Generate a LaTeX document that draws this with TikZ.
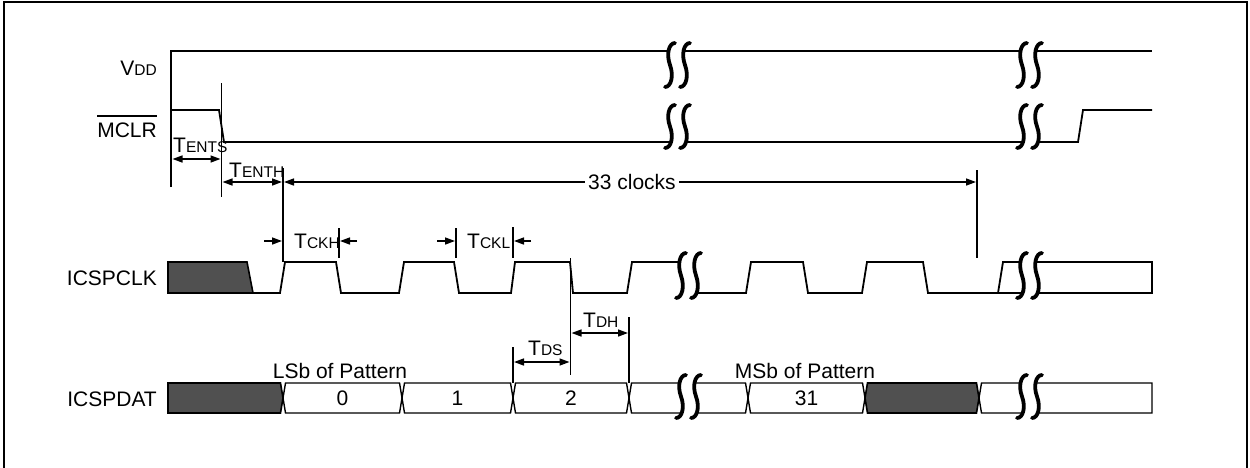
\documentclass[tikz,border=0pt]{standalone}
\usepackage{fontspec}
\setmainfont{Liberation Sans}
\usetikzlibrary{arrows.meta}
\definecolor{darkfill}{RGB}{80,80,80}
\newcommand\bigf{\fontsize{21}{25}\selectfont}
\newcommand\smf{\fontsize{15.5}{18}\selectfont}
\newcommand\sct[2]{{\bigf #1}{\smf #2}}
\tikzset{
  sig/.style={line width=1.8pt, line join=miter},
  tline/.style={line width=1.6pt},
  dim/.style={line width=1.5pt, {Triangle[length=10pt,width=7pt]}-{Triangle[length=10pt,width=7pt]}},
  dimr/.style={line width=1.5pt, -{Triangle[length=10pt,width=7pt]}},
  brk/.style={line width=3.8pt, line cap=round},
  lbl/.style={inner sep=0pt, font=\bigf},
  dbox/.style={line width=1.4pt, fill=white},
  dkbox/.style={line width=1.6pt, fill=darkfill},
}
% break pair: #1 x1, #2 x2, #3 top y, #4 bottom y
\newcommand\brkpair[4]{%
  \pgfmathsetmacro\brkh{#4-#3}%
  \fill[white] ({#1+5},#3) .. controls ({#1-1},{#3}) and ({#1-4},{#3+0.25*\brkh}) .. ({#1},{#3+0.5*\brkh}) .. controls ({#1+4},{#3+0.75*\brkh}) and ({#1+1},{#4}) .. ({#1-5},#4)
     -- ({#2-5},#4) .. controls ({#2+1},{#4}) and ({#2+4},{#3+0.75*\brkh}) .. ({#2},{#3+0.5*\brkh}) .. controls ({#2-4},{#3+0.25*\brkh}) and ({#2-1},{#3}) .. ({#2+5},#3) -- cycle;
  \draw[brk] ({#1+5},#3) .. controls ({#1-1},{#3}) and ({#1-4},{#3+0.25*\brkh}) .. ({#1},{#3+0.5*\brkh}) .. controls ({#1+4},{#3+0.75*\brkh}) and ({#1+1},{#4}) .. ({#1-5},#4);
  \draw[brk] ({#2+5},#3) .. controls ({#2-1},{#3}) and ({#2-4},{#3+0.25*\brkh}) .. ({#2},{#3+0.5*\brkh}) .. controls ({#2+4},{#3+0.75*\brkh}) and ({#2+1},{#4}) .. ({#2-5},#4);
}
% data box between transitions #1 and #2, style #3
\newcommand\databox[3]{%
  \draw[#3] (#1,398) -- ({#1+2.5},383) -- ({#2-2.5},383) -- (#2,398) -- ({#2-2.5},413) -- ({#1+2.5},413) -- cycle;
}
\begin{document}
\begin{tikzpicture}[x=1pt,y=-1pt]
\useasboundingbox (0,0) rectangle (1250,467);
\draw[line width=2pt] (4,475) -- (4,1.5) -- (1247,1.5) -- (1247,475);

% ---------- signal labels ----------
\node[lbl, anchor=base east] (vdd) at (157,75) {\sct{V}{DD}};
\node[lbl, anchor=base east] (mclr) at (157,137) {MCLR};
\draw[line width=1.5pt] ([yshift=6pt]mclr.north west) -- ([yshift=6pt]mclr.north east);
\node[lbl, anchor=base east] (clk) at (157,285) {ICSPCLK};
\node[lbl, anchor=base east] (dat) at (157,406) {ICSPDAT};

% ---------- VDD and MCLR ----------
\draw[sig] (171,187) -- (171,51) -- (1152,51);
\draw[sig] (171,110) -- (219,110) -- (224,142) -- (1078,142) -- (1083,110) -- (1152,110);
\brkpair{670}{685}{43}{87}
\brkpair{1022}{1037}{43}{87}
\brkpair{670}{685}{105}{148}
\brkpair{1022}{1037}{105}{148}

% ---------- ICSPCLK ----------
\draw[dkbox] (168,262) -- (247,262) -- (253,293) -- (168,293) -- cycle;
\draw[sig] (253,293) -- (280,293) -- (285,262) -- (336,262) -- (341,293) -- (399,293) -- (404,262) -- (454,262) -- (459,293)
  -- (511,293) -- (515,262) -- (570,262) -- (573,293) -- (627,293) -- (632,262) -- (692,262);
\draw[sig] (686,293) -- (746,293) -- (751,262) -- (803,262) -- (808,293) -- (862,293) -- (867,262) -- (923,262) -- (928,293)
  -- (1030,293);
\draw[sig] (998,293) -- (1003,262) -- (1030,262);
\draw[sig] (1030,262) -- (1152,262) -- (1152,293) -- (1030,293);
\brkpair{681}{696}{253}{298}
\brkpair{1022}{1037}{253}{298}

% ---------- ICSPDAT ----------
\draw[dkbox] (168,383) -- (280.5,383) -- (283,398) -- (280.5,413) -- (168,413) -- cycle;
\databox{283}{402}{dbox}
\databox{402}{513}{dbox}
\databox{513}{629}{dbox}
\databox{629}{748}{dbox}
\databox{748}{865}{dbox}
\databox{865}{979}{dkbox}
\draw[dbox] (979,398) -- (981.5,383) -- (1152,383) -- (1152,413) -- (981.5,413) -- cycle;
\brkpair{681}{696}{375}{418}
\brkpair{1022}{1037}{375}{418}
\node[lbl, anchor=base] (d0) at (342.5,405) {0};
\node[lbl, anchor=base] (d1) at (457.5,405) {1};
\node[lbl, anchor=base] (d2) at (571,405) {2};
\node[lbl, anchor=base] (d31) at (806.5,405) {31};
\node[lbl, anchor=base] (lsb) at (340,378) {LSb of Pattern};
\node[lbl, anchor=base] (msb) at (805,378) {MSb of Pattern};

% ---------- timing reference lines ----------
\coordinate (vA) at (221.5,83);  \coordinate (vB) at (221.5,197);
\coordinate (hA) at (283,168);   \coordinate (hB) at (283,262);
\coordinate (kA) at (977,170);   \coordinate (kB) at (977,258);
\coordinate (ckhT) at (339,228); \coordinate (ckhU) at (339,258);
\coordinate (cklT) at (456,228); \coordinate (cklU) at (456,258);
\coordinate (cklV) at (512.7,227); \coordinate (cklW) at (512.7,258);
\coordinate (fA) at (570.5,258); \coordinate (fB) at (570.5,375);
\coordinate (sA) at (513,347);   \coordinate (sB) at (513,383);
\coordinate (gA) at (629,317);   \coordinate (gB) at (629,383);
\draw[tline] (vA) -- (vB);
\draw[tline] (hA) -- (hB);
\draw[tline] (kA) -- (kB);
\draw[tline] (ckhT) -- (ckhU);
\draw[tline] (cklT) -- (cklU);
\draw[tline] (cklV) -- (cklW);
\draw[tline] (fA) -- (fB);
\draw[tline] (sA) -- (sB);
\draw[tline] (gA) -- (gB);

% ---------- dimension arrows ----------
\coordinate (entsL) at (172.5,159); \coordinate (entsR) at (220.5,159);
\coordinate (enthL) at (222.5,182); \coordinate (enthR) at (282,182);
\coordinate (c33L) at (284,182);    \coordinate (c33R) at (976,182);
\coordinate (ckhA) at (264,241);    \coordinate (ckhB) at (282,241);
\coordinate (ckhC) at (357,241);    \coordinate (ckhD) at (340,241);
\coordinate (cklA) at (437,241);    \coordinate (cklB) at (455,241);
\coordinate (cklC) at (531,241);    \coordinate (cklD) at (514,241);
\coordinate (dsL) at (514,362);     \coordinate (dsR) at (569.5,362);
\coordinate (dhL) at (571.5,333);   \coordinate (dhR) at (628,333);
\draw[dim] (entsL) -- (entsR);
\draw[dim] (enthL) -- (enthR);
\draw[dim] (c33L) -- (c33R);
\draw[dimr] (ckhA) -- (ckhB);
\draw[dimr] (ckhC) -- (ckhD);
\draw[dimr] (cklA) -- (cklB);
\draw[dimr] (cklC) -- (cklD);
\draw[dim] (dsL) -- (dsR);
\draw[dim] (dhL) -- (dhR);

% ---------- timing labels ----------
\node[lbl, anchor=base west] (tents) at (173,152) {\sct{T}{ENTS}};
\node[lbl, anchor=base west] (tenth) at (229,177) {\sct{T}{ENTH}};
\node[lbl, anchor=base, fill=white, inner xsep=3pt, inner ysep=1pt] (clocks) at (632,189) {33 clocks};
\node[lbl, anchor=base west] (tckh) at (294,248) {\sct{T}{CKH}};
\node[lbl, anchor=base west] (tckl) at (467,248) {\sct{T}{CKL}};
\node[lbl, anchor=base west] (tds) at (528,355) {\sct{T}{DS}};
\node[lbl, anchor=base west] (tdh) at (583,327) {\sct{T}{DH}};
\end{tikzpicture}
\end{document}
